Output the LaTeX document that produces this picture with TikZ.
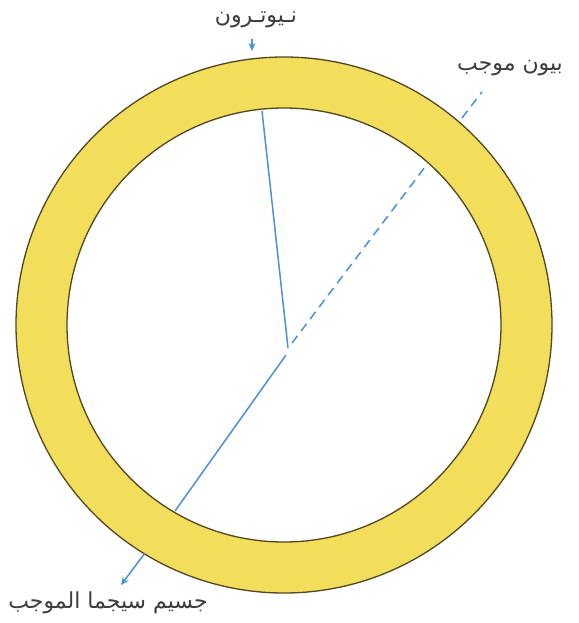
\documentclass[tikz,border=0pt]{standalone}
\usepackage{fontspec}
\newfontfamily\arabicfont[Script=Arabic]{DejaVu Sans}
\TeXXeTstate=1
\usetikzlibrary{arrows.meta}
\definecolor{ringfill}{RGB}{243,222,92}
\definecolor{ringline}{RGB}{80,70,35}
\definecolor{trackblue}{RGB}{75,145,215}
\definecolor{textgray}{RGB}{60,60,60}
\tikzset{
  track/.style={draw=trackblue, line width=1.5pt},
  dashtrack/.style={track, dash pattern=on 9pt off 6pt},
  tip/.style={-{Stealth[length=8pt,width=7pt]}},
  lbl/.style={text=textgray, font=\arabicfont\fontsize{22}{24}\selectfont, inner sep=0pt},
  ring/.style={fill=ringfill, draw=ringline, line width=1.3pt, even odd rule}
}
\begin{document}
\begin{tikzpicture}[x=1pt,y=-1pt]
\useasboundingbox (0,0) rectangle (578,623);
% tracks
\coordinate (o) at (288,348);
\coordinate (oS) at (286,355);
\coordinate (oD) at (292,343);
\coordinate (nIn) at (262,111);
\coordinate (dIn) at (428,163);
\coordinate (dOutA) at (462,118);
\coordinate (dOutB) at (482,92);
\coordinate (sIn) at (175,511);
\coordinate (sOutA) at (145,553);
\coordinate (sOutB) at (121,585);
\coordinate (nOutA) at (252,39);
\coordinate (nOutB) at (252,51);
% ring
\path[ring] (284,325) circle[radius=268pt] (284,325) circle[radius=217pt];
\draw[track] (o) -- (nIn);
\draw[dashtrack] (oD) -- (dIn);
\draw[dashtrack] (dOutA) -- (dOutB);
\draw[track] (oS) -- (sIn);
\draw[track,tip] (sOutA) -- (sOutB);
\draw[track,tip] (nOutA) -- (nOutB);
% labels
\node[lbl] (neutron) at (256,20) {\beginR نـيوتـرون\endR};
\node[lbl] (pion) at (510,68) {\beginR بيون موجب\endR};
\node[lbl] (sigma) at (108,603) {\beginR جسيم سيجما الموجب\endR};
\end{tikzpicture}
\end{document}
